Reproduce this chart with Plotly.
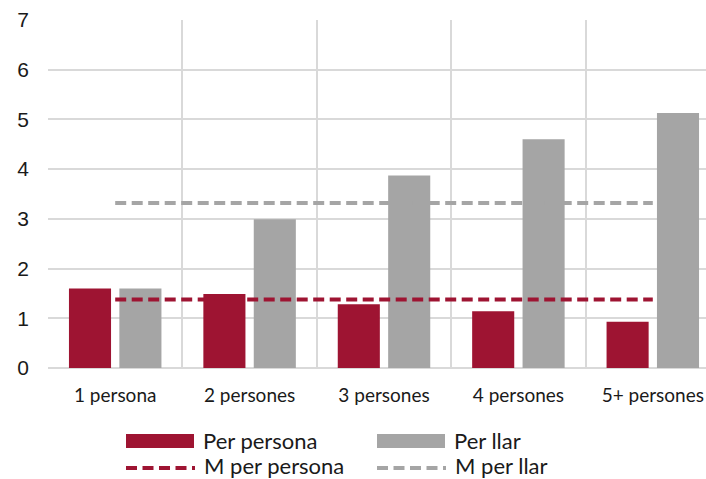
import plotly.graph_objects as go

# Data
categories = ["1 persona", "2 persones", "3 persones", "4 persones", "5+ persones"]
per_persona = [1.60, 1.49, 1.28, 1.14, 0.93]
per_llar = [1.60, 2.99, 3.87, 4.60, 5.13]
mitjana_per_persona = 1.38
mitjana_per_llar = 3.32
y_ticks = [0, 1, 2, 3, 4, 5, 6, 7]

# Style
RED = "#9E1432"
GREY = "#A5A5A5"
GRID = "#D9D9D9"
TEXT = "#1A1A1A"
DASH = "11px,5.5px"

W, H = 706, 479
ML, MR, MT, MB = 48, 0, 20, 111
PW, PH = W - ML - MR, H - MT - MB


def fx(px):
    return (px - ML) / PW


def fy(py):
    return (H - MB - py) / PH


fig = go.Figure()
fig.add_trace(go.Bar(x=categories, y=per_persona, name="Per persona",
                     marker=dict(color=RED, line=dict(width=0)), showlegend=False))
fig.add_trace(go.Bar(x=categories, y=per_llar, name="Per llar",
                     marker=dict(color=GREY, line=dict(width=0)), showlegend=False))
fig.add_trace(go.Scatter(x=categories, y=[mitjana_per_persona] * len(categories),
                         mode="lines", name="M per persona",
                         line=dict(color=RED, width=4, dash=DASH), showlegend=False))
fig.add_trace(go.Scatter(x=categories, y=[mitjana_per_llar] * len(categories),
                         mode="lines", name="M per llar",
                         line=dict(color=GREY, width=4, dash=DASH), showlegend=False))

# Legend drawn below the plot: swatch + label for each series
# (label, colour, kind, swatch x0, swatch x1, swatch centre y, text centre y)
legend_items = [
    ("Per persona", RED, "bar", 126, 194, 441, 441),
    ("Per llar", GREY, "bar", 377, 445, 441, 441),
    ("M per persona", RED, "line", 126, 195, 468, 465),
    ("M per llar", GREY, "line", 377, 446, 468, 465),
]
shapes = []
annotations = []
for label, color, kind, x0, x1, yc, yt in legend_items:
    if kind == "bar":
        shapes.append(dict(type="rect", xref="paper", yref="paper",
                           x0=fx(x0), x1=fx(x1), y0=fy(yc + 7), y1=fy(yc - 7),
                           fillcolor=color, line=dict(width=0)))
    else:
        shapes.append(dict(type="line", xref="paper", yref="paper",
                           x0=fx(x0), x1=fx(x1), y0=fy(yc), y1=fy(yc),
                           line=dict(color=color, width=4, dash=DASH)))
    annotations.append(dict(text=label, xref="paper", yref="paper",
                            x=fx(x1 + 7), y=fy(yt), xanchor="left", yanchor="middle",
                            showarrow=False,
                            font=dict(family="Lato", size=22, color=TEXT)))

fig.update_layout(
    width=W, height=H,
    margin=dict(l=ML, r=MR, t=MT, b=MB, pad=0),
    paper_bgcolor="white", plot_bgcolor="white",
    barmode="group", bargap=0.25, bargroupgap=0.165,
    showlegend=False,
    shapes=shapes, annotations=annotations,
)
fig.update_xaxes(
    type="category", tickson="boundaries",
    range=[-0.5, 4.5 - 14 / 134.4],
    showgrid=True, gridcolor=GRID, gridwidth=1.6,
    showline=False, zeroline=False, ticks="",
    ticklabelstandoff=14,
    tickfont=dict(family="Lato", size=19, color=TEXT),
)
fig.update_yaxes(
    range=[0, 7], tickvals=y_ticks,
    showgrid=True, gridcolor=GRID, gridwidth=1.6,
    zeroline=True, zerolinecolor=GRID, zerolinewidth=1.6,
    showline=False, ticks="",
    ticklabelstandoff=18,
    tickfont=dict(family="Liberation Sans", size=21, color=TEXT),
)

fig.write_html("out.html")
